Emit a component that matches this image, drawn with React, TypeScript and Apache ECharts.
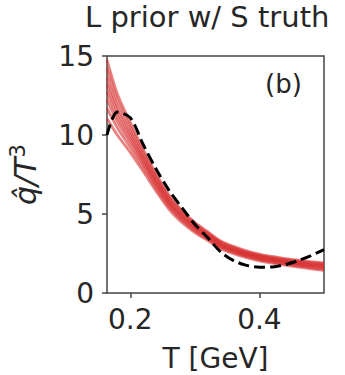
import React, { useEffect, useRef } from "react";
import * as echarts from "echarts";

const temps = [0.164, 0.18, 0.2, 0.22, 0.24, 0.26, 0.28, 0.3, 0.32, 0.34, 0.36, 0.38, 0.4, 0.42, 0.44, 0.46, 0.48, 0.5];

const truth = [10.0, 11.45, 11.1, 9.4, 7.85, 6.5, 5.4, 4.35, 3.5, 2.6, 2.05, 1.75, 1.63, 1.65, 1.8, 2.05, 2.37, 2.75];

const posterior1 = [14.75, 12.6, 10.8, 9.1, 7.55, 6.2, 5.23, 4.47, 3.88, 3.3, 2.95, 2.67, 2.46, 2.31, 2.18, 2.08, 1.99, 1.91];
const posterior2 = [14.2, 12.21, 10.52, 8.89, 7.39, 6.07, 5.12, 4.37, 3.8, 3.23, 2.88, 2.6, 2.4, 2.25, 2.12, 2.01, 1.92, 1.84];
const posterior3 = [13.64, 11.82, 10.23, 8.68, 7.22, 5.93, 5.0, 4.28, 3.71, 3.15, 2.81, 2.54, 2.33, 2.18, 2.05, 1.95, 1.85, 1.77];
const posterior4 = [13.18, 11.5, 9.99, 8.51, 7.08, 5.82, 4.91, 4.2, 3.64, 3.09, 2.75, 2.48, 2.28, 2.13, 2.0, 1.89, 1.79, 1.71];
const posterior5 = [12.72, 11.17, 9.76, 8.33, 6.95, 5.71, 4.81, 4.12, 3.57, 3.03, 2.7, 2.43, 2.23, 2.08, 1.95, 1.84, 1.74, 1.65];
const posterior6 = [12.25, 10.85, 9.52, 8.16, 6.81, 5.59, 4.72, 4.04, 3.5, 2.96, 2.64, 2.37, 2.18, 2.03, 1.9, 1.78, 1.68, 1.59];
const posterior7 = [11.7, 10.46, 9.23, 7.95, 6.64, 5.46, 4.6, 3.94, 3.42, 2.89, 2.57, 2.31, 2.11, 1.96, 1.83, 1.72, 1.61, 1.51];
const posterior8 = [11.05, 10.0, 8.9, 7.7, 6.45, 5.3, 4.47, 3.83, 3.32, 2.8, 2.49, 2.23, 2.04, 1.89, 1.76, 1.64, 1.53, 1.43];

const posteriors = [posterior1, posterior2, posterior3, posterior4, posterior5, posterior6, posterior7, posterior8];

const xTicks = [0.2, 0.4];
const yTicks = [0, 5, 10, 15];

const FONT = "DejaVu Sans";
const TEXT = "#262626";
const SPINE = "#444444";

export default function App() {
  const ref = useRef<HTMLDivElement>(null);
  useEffect(() => {
    if (!ref.current) return;
    const chart = echarts.init(ref.current, undefined, { renderer: "svg" });
    const pair = (ys: number[]) => temps.map((t, i) => [t, ys[i]]);
    const series: any[] = posteriors.map((p, k) => ({
      type: "line",
      name: "posterior" + (k + 1),
      data: pair(p),
      showSymbol: false,
      smooth: 0.3,
      lineStyle: { color: "#d62728", width: 2.8, opacity: 0.58 },
      silent: true,
      z: 2,
    }));
    series.push({
      type: "line",
      name: "truth",
      data: pair(truth),
      showSymbol: false,
      smooth: 0.3,
      lineStyle: { color: "#000000", width: 3, type: [11, 5] },
      silent: true,
      z: 3,
    });
    chart.setOption({
      animation: false,
      title: {
        text: "L prior w/ S truth",
        left: 85,
        top: 2,
        padding: 0,
        textStyle: { fontFamily: FONT, fontSize: 29, fontWeight: "normal", color: TEXT },
      },
      grid: {
        left: 107,
        right: 21,
        top: 56,
        bottom: 82,
        show: true,
        borderColor: SPINE,
        borderWidth: 1.5,
        containLabel: false,
        outerBoundsMode: "none",
      },
      xAxis: {
        type: "value",
        min: 0.164,
        max: 0.5,
        name: "T [GeV]",
        nameLocation: "middle",
        nameGap: 51,
        nameTextStyle: { fontFamily: FONT, fontSize: 28, color: TEXT },
        axisLine: { show: false },
        splitLine: { show: false },
        axisTick: { show: true, length: 5, lineStyle: { color: SPINE, width: 1.5 }, customValues: xTicks },
        axisLabel: {
          customValues: xTicks,
          fontFamily: FONT,
          fontSize: 28,
          color: TEXT,
          margin: 12,
          formatter: (v: number) => v.toFixed(1),
        },
      },
      yAxis: {
        type: "value",
        min: 0,
        max: 15,
        interval: 5,
        name: "{a|q̂/T}{b|3}",
        nameLocation: "middle",
        nameRotate: 90,
        nameGap: 64,
        nameTextStyle: {
          fontFamily: FONT,
          fontSize: 30,
          color: TEXT,
          rich: {
            a: { fontFamily: FONT, fontSize: 30, fontStyle: "italic", color: TEXT },
            b: { fontFamily: FONT, fontSize: 21, color: TEXT, padding: [0, 0, 15, 0] },
          },
        },
        axisLine: { show: false },
        splitLine: { show: false },
        axisTick: { show: true, length: 5, lineStyle: { color: SPINE, width: 1.5 } },
        axisLabel: { fontFamily: FONT, fontSize: 28, color: TEXT, margin: 13, customValues: yTicks },
      },
      graphic: [
        {
          type: "text",
          left: 265,
          top: 71,
          style: { text: "(b)", fontFamily: FONT, fontSize: 26, fill: TEXT },
          z: 10,
        },
      ],
      series,
    });
    return () => chart.dispose();
  }, []);
  return (
    <div
      ref={ref}
      style={{ position: "absolute", left: 0, top: 0, width: 345, height: 375 }}
    />
  );
}
